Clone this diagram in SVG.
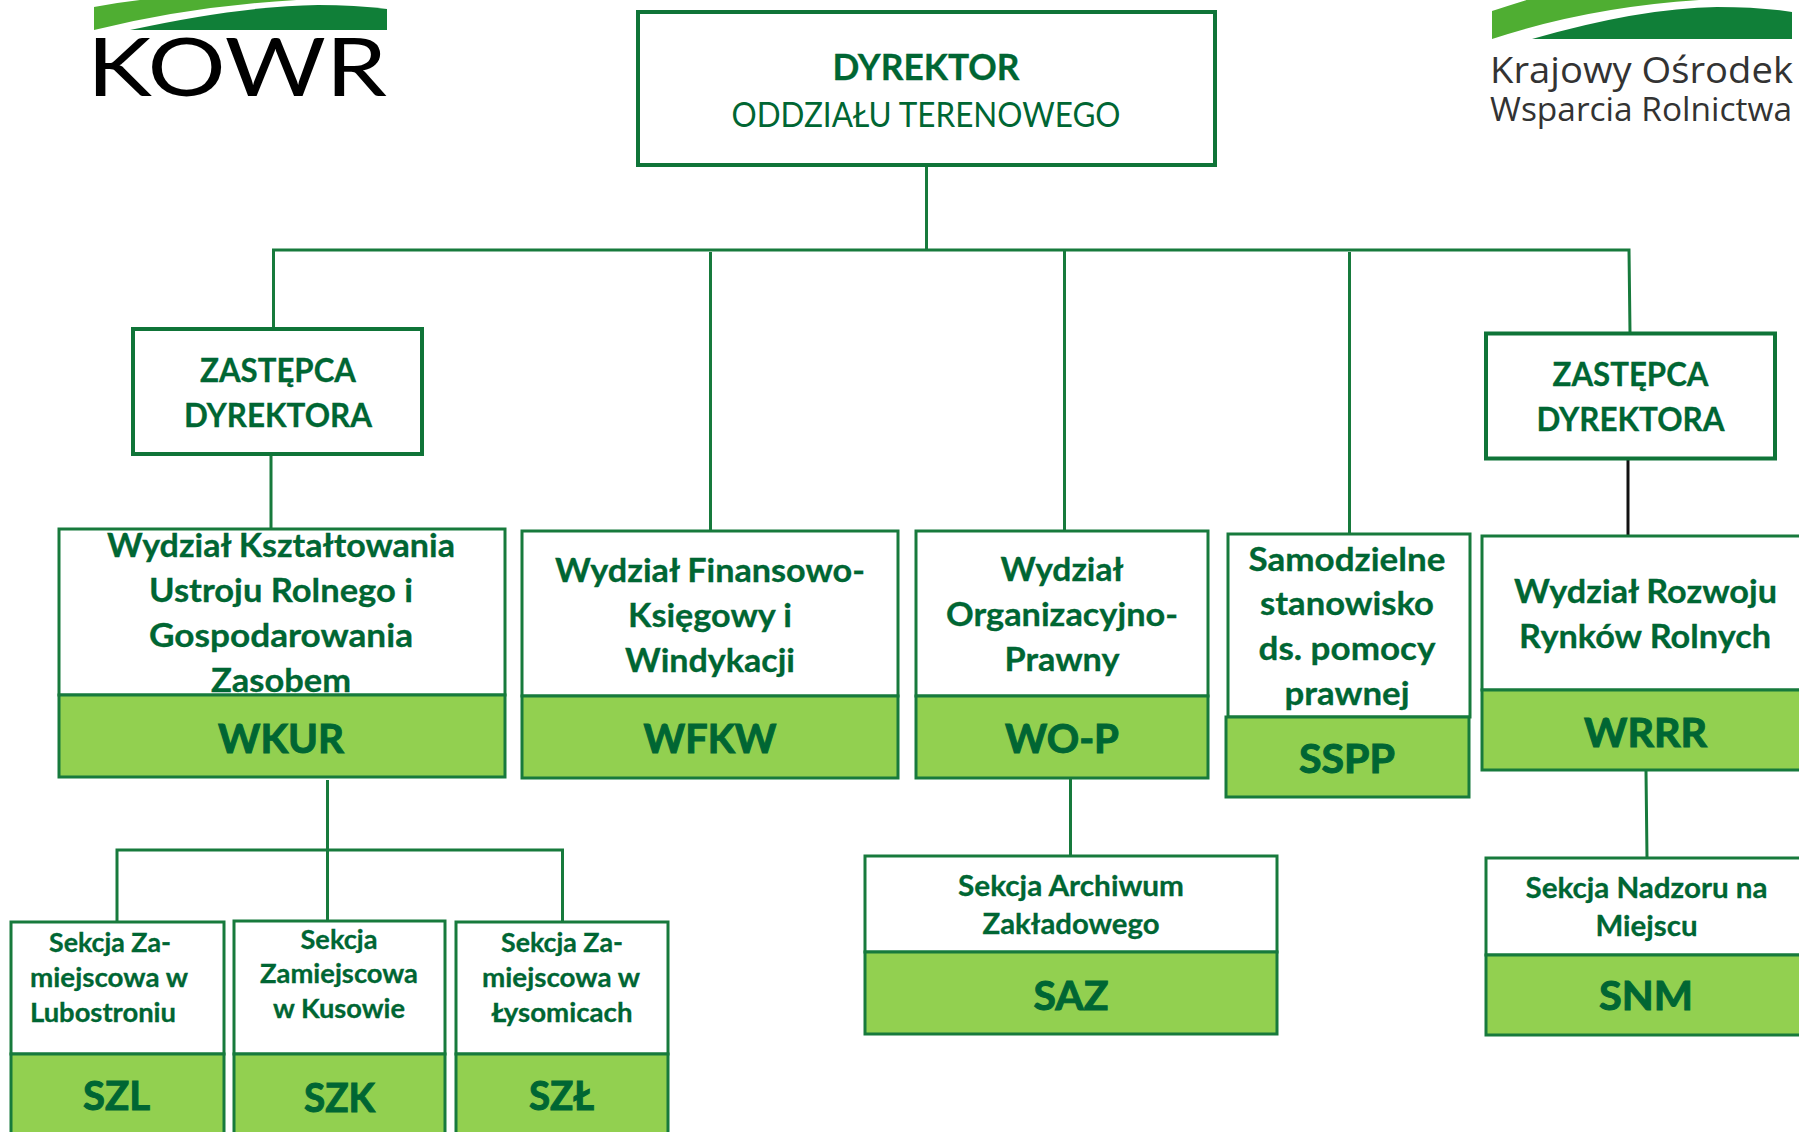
<svg xmlns="http://www.w3.org/2000/svg" width="1799" height="1132" viewBox="0 0 1799 1132">
<style>
text{font-family:"Lato","Carlito","Noto Sans",sans-serif;fill:#006633;stroke:#006633;stroke-width:.3;text-anchor:middle;font-weight:700;}
.m{font-size:33px}.s{font-size:26px}.t{font-size:29px}.c{font-size:41px;stroke-width:1}
.w{fill:#fff;stroke:#177a3c;stroke-width:3}
.g{fill:#92d050;stroke:#177a3c;stroke-width:3}
.b{fill:#fff;stroke:#0f7438;stroke-width:4}
#connectors path{fill:none;stroke:#177a3c;stroke-width:3}
.logo{fill:#333;stroke:none;text-anchor:start;font-weight:400}
</style>
<g id="logo-left">
<path d="M94 7Q125 1 160 -2L352 -2Q215 0 94 30Z" fill="#4fae32"/>
<path d="M130 30Q240 6 318 5Q355 5 387 9V30Z" fill="#107f38"/>
<text class="logo" x="87" y="96" font-size="82" textLength="300" lengthAdjust="spacingAndGlyphs" style="fill:#000;font-family:Lato,sans-serif">KOWR</text>
</g>
<g id="logo-right">
<path d="M1492 11Q1510 5 1533 -2L1750 -2Q1610 0 1492 39Z" fill="#4fae32"/>
<path d="M1532 39Q1640 8 1717 7Q1760 7 1792 12V39Z" fill="#107f38"/>
<text class="logo" x="1490" y="83" font-size="37" textLength="303" lengthAdjust="spacingAndGlyphs" style="font-family:'Open Sans',sans-serif">Krajowy Ośrodek</text>
<text class="logo" x="1490" y="121" font-size="33" textLength="302" lengthAdjust="spacingAndGlyphs" style="font-family:'Open Sans',sans-serif">Wsparcia Rolnictwa</text>
</g>
<g id="connectors">
<path d="M926.5 165V250M273.5 329V250H1629L1630 332M710.5 252V531M1064.5 250V531M1349.5 252V534M271 454V529"/>
<path d="M1628 459V535" style="stroke:#111"/>
<path d="M327.5 780V920M117 922V850H562.5V922M1070.5 778V856M1646 771L1647 858"/>
</g>
<g id="dyrektor"><rect class="b" x="638" y="12" width="577" height="153"/>
<text x="926" y="80" font-size="37" textLength="187" lengthAdjust="spacingAndGlyphs">DYREKTOR</text>
<text x="926" y="127" font-size="34" textLength="389" lengthAdjust="spacingAndGlyphs" style="font-weight:400;stroke:none">ODDZIAŁU TERENOWEGO</text></g>
<g id="zastepca-l"><rect class="b" x="133" y="329" width="289" height="125"/>
<text class="m" x="278" y="382" textLength="156" lengthAdjust="spacingAndGlyphs">ZASTĘPCA</text>
<text class="m" x="278" y="427" textLength="188" lengthAdjust="spacingAndGlyphs">DYREKTORA</text></g>
<g id="zastepca-r"><rect class="b" x="1486" y="333.5" width="289" height="125"/>
<text class="m" x="1630.5" y="385.5" textLength="156" lengthAdjust="spacingAndGlyphs">ZASTĘPCA</text>
<text class="m" x="1630.5" y="431" textLength="188" lengthAdjust="spacingAndGlyphs">DYREKTORA</text></g>
<g id="wkur"><rect class="w" x="59" y="529" width="446" height="166"/><rect class="g" x="59" y="695" width="446" height="82"/>
<text class="m" x="281" y="557" textLength="348" lengthAdjust="spacingAndGlyphs">Wydział Kształtowania</text>
<text class="m" x="281" y="602" textLength="264" lengthAdjust="spacingAndGlyphs">Ustroju Rolnego i</text>
<text class="m" x="281" y="647" textLength="264" lengthAdjust="spacingAndGlyphs">Gospodarowania</text>
<text class="m" x="281" y="692" textLength="140" lengthAdjust="spacingAndGlyphs">Zasobem</text>
<text class="c" x="281" y="753" textLength="126" lengthAdjust="spacingAndGlyphs">WKUR</text></g>
<g id="wfkw"><rect class="w" x="522" y="531" width="376" height="165"/><rect class="g" x="522" y="696" width="376" height="82"/>
<text class="m" x="710" y="582" textLength="310" lengthAdjust="spacingAndGlyphs">Wydział Finansowo-</text>
<text class="m" x="710" y="626.5" textLength="164" lengthAdjust="spacingAndGlyphs">Księgowy i</text>
<text class="m" x="710" y="672" textLength="170" lengthAdjust="spacingAndGlyphs">Windykacji</text>
<text class="c" x="710" y="753" textLength="133" lengthAdjust="spacingAndGlyphs">WFKW</text></g>
<g id="wop"><rect class="w" x="916" y="531" width="292" height="165"/><rect class="g" x="916" y="696" width="292" height="82"/>
<text class="m" x="1062" y="580.5" textLength="123" lengthAdjust="spacingAndGlyphs">Wydział</text>
<text class="m" x="1062" y="626" textLength="232" lengthAdjust="spacingAndGlyphs">Organizacyjno-</text>
<text class="m" x="1062" y="671" textLength="115" lengthAdjust="spacingAndGlyphs">Prawny</text>
<text class="c" x="1062" y="753" textLength="114" lengthAdjust="spacingAndGlyphs">WO-P</text></g>
<g id="sspp"><rect class="w" x="1228" y="534" width="242" height="183"/><rect class="g" x="1226" y="717" width="243" height="80"/>
<text class="m" x="1347" y="571" textLength="197" lengthAdjust="spacingAndGlyphs">Samodzielne</text>
<text class="m" x="1347" y="615" textLength="174" lengthAdjust="spacingAndGlyphs">stanowisko</text>
<text class="m" x="1347" y="660" textLength="177" lengthAdjust="spacingAndGlyphs">ds. pomocy</text>
<text class="m" x="1347" y="704.5" textLength="125" lengthAdjust="spacingAndGlyphs">prawnej</text>
<text class="c" x="1347" y="773" textLength="96" lengthAdjust="spacingAndGlyphs">SSPP</text></g>
<g id="wrrr"><rect class="w" x="1482" y="536" width="330" height="154"/><rect class="g" x="1482" y="690" width="330" height="80"/>
<text class="m" x="1645.5" y="603" textLength="263" lengthAdjust="spacingAndGlyphs">Wydział Rozwoju</text>
<text class="m" x="1645" y="648" textLength="252" lengthAdjust="spacingAndGlyphs">Rynków Rolnych</text>
<text class="c" x="1645.5" y="747" textLength="123" lengthAdjust="spacingAndGlyphs">WRRR</text></g>
<g id="saz"><rect class="w" x="865" y="856" width="412" height="96"/><rect class="g" x="865" y="952" width="412" height="82"/>
<text class="t" x="1071" y="896" textLength="226" lengthAdjust="spacingAndGlyphs">Sekcja Archiwum</text>
<text class="t" x="1071" y="934" textLength="177" lengthAdjust="spacingAndGlyphs">Zakładowego</text>
<text class="c" x="1071" y="1010" textLength="75" lengthAdjust="spacingAndGlyphs">SAZ</text></g>
<g id="snm"><rect class="w" x="1486" y="858" width="326" height="97"/><rect class="g" x="1486" y="955" width="326" height="80"/>
<text class="t" x="1646.5" y="898" textLength="242" lengthAdjust="spacingAndGlyphs">Sekcja Nadzoru na</text>
<text class="t" x="1646.5" y="936" textLength="102" lengthAdjust="spacingAndGlyphs">Miejscu</text>
<text class="c" x="1646" y="1010" textLength="94" lengthAdjust="spacingAndGlyphs">SNM</text></g>
<g id="szl"><rect class="w" x="11" y="922" width="213" height="132"/><rect class="g" x="11" y="1054" width="213" height="90"/>
<text class="s" x="110" y="952" textLength="122" lengthAdjust="spacingAndGlyphs">Sekcja Za-</text>
<text class="s" x="109" y="987" textLength="158" lengthAdjust="spacingAndGlyphs">miejscowa w</text>
<text class="s" x="103" y="1022" textLength="146" lengthAdjust="spacingAndGlyphs">Lubostroniu</text>
<text class="c" x="116.5" y="1110" textLength="67" lengthAdjust="spacingAndGlyphs">SZL</text></g>
<g id="szk"><rect class="w" x="234" y="921" width="211" height="133"/><rect class="g" x="234" y="1054" width="211" height="90"/>
<text class="s" x="339" y="949" textLength="77" lengthAdjust="spacingAndGlyphs">Sekcja</text>
<text class="s" x="339" y="983" textLength="158" lengthAdjust="spacingAndGlyphs">Zamiejscowa</text>
<text class="s" x="339" y="1018" textLength="132" lengthAdjust="spacingAndGlyphs">w Kusowie</text>
<text class="c" x="339.5" y="1112" textLength="71" lengthAdjust="spacingAndGlyphs">SZK</text></g>
<g id="szlx"><rect class="w" x="456" y="922" width="212" height="132"/><rect class="g" x="456" y="1054" width="212" height="90"/>
<text class="s" x="562" y="952" textLength="122" lengthAdjust="spacingAndGlyphs">Sekcja Za-</text>
<text class="s" x="561" y="987" textLength="158" lengthAdjust="spacingAndGlyphs">miejscowa w</text>
<text class="s" x="562" y="1022" textLength="141" lengthAdjust="spacingAndGlyphs">Łysomicach</text>
<text class="c" x="561.5" y="1110" textLength="65" lengthAdjust="spacingAndGlyphs">SZŁ</text></g>
</svg>
